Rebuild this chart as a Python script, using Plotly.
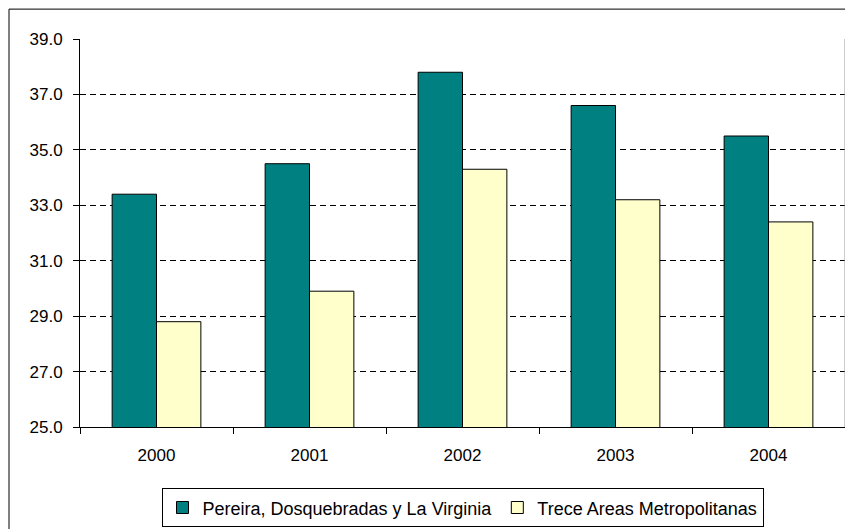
import plotly.graph_objects as go

years = ["2000", "2001", "2002", "2003", "2004"]
pereira = [33.4, 34.5, 37.8, 36.6, 35.5]
trece = [28.8, 29.9, 34.3, 33.2, 32.4]
y_ticks = [25, 27, 29, 31, 33, 35, 37, 39]
y_tick_text = ["25.0", "27.0", "29.0", "31.0", "33.0", "35.0", "37.0", "39.0"]

FONT = "Liberation Sans, Arial, sans-serif"

fig = go.Figure()
fig.add_trace(go.Bar(x=years, y=pereira, name="Pereira, Dosquebradas y La Virginia",
                     marker=dict(color="#008080", line=dict(color="black", width=1))))
fig.add_trace(go.Bar(x=years, y=trece, name="Trece Areas Metropolitanas",
                     marker=dict(color="#FFFFCC", line=dict(color="black", width=1))))

fig.update_layout(
    width=845, height=521,
    margin=dict(l=72, r=8, t=31, b=102, autoexpand=False),
    paper_bgcolor="white", plot_bgcolor="white",
    font=dict(family=FONT, size=17, color="black"),
    barmode="group", bargap=0.42, bargroupgap=0,
    showlegend=True,
    legend=dict(orientation="h", x=0.5, xanchor="center", y=-0.158, yanchor="top",
                bordercolor="black", borderwidth=1, font=dict(size=18),
                itemwidth=30, tracegroupgap=0),
    xaxis=dict(showline=True, linecolor="black", linewidth=1, ticks="outside",
               tickson="boundaries", ticklen=6, tickcolor="black",
               ticklabelstandoff=13, showgrid=False),
    yaxis=dict(range=[25, 39], tickvals=y_ticks, ticktext=y_tick_text,
               showline=True, linecolor="black", linewidth=1, ticks="outside",
               ticklen=6, tickcolor="black", ticklabelstandoff=7,
               showgrid=True, gridcolor="black", gridwidth=1, griddash="6px,4px",
               zeroline=False),
    shapes=[
        dict(type="rect", xref="paper", yref="paper", x0=-0.0928, x1=1.05, y0=-0.4, y1=1.077,
             line=dict(color="black", width=1), fillcolor="rgba(0,0,0,0)", layer="above"),
        dict(type="line", xref="paper", yref="paper", x0=1, x1=1, y0=0, y1=1,
             line=dict(color="#999999", width=1)),
    ],
)

fig.write_html("out.html")
